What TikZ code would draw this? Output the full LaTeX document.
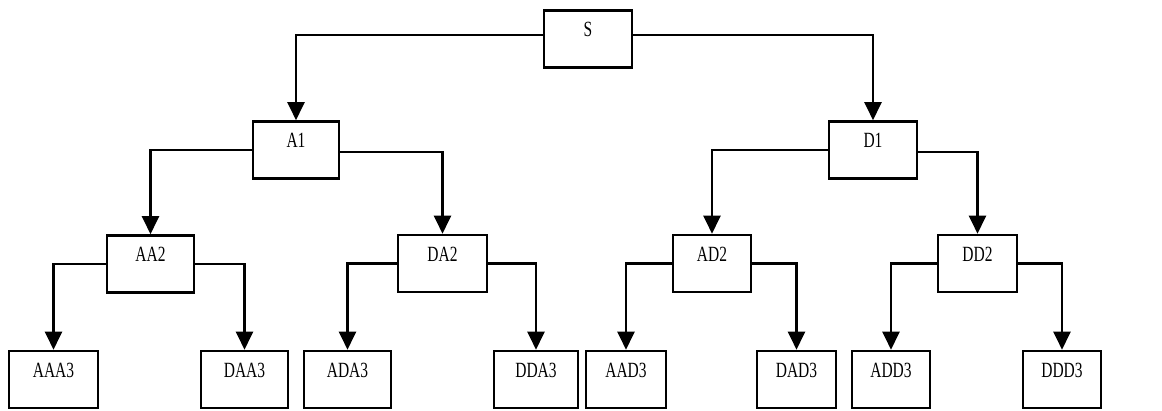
\documentclass[tikz,border=0pt]{standalone}
\usepackage{graphicx}
\usepackage{fontspec}
\setmainfont{Liberation Serif}
\usetikzlibrary{arrows.meta}
\tikzset{
  box/.style={draw, line width=2.6pt, rectangle, inner xsep=0pt, inner ysep=0pt,
    minimum height=57pt, text height=26pt, text depth=31pt,
    font=\fontsize{15.5}{18}\selectfont},
  conn/.style={line width=2.2pt, -{Triangle[width=17pt,length=18pt]}}
}
\newcommand{\lbl}[1]{\scalebox{1}[1.4]{#1}}
\begin{document}
\begin{tikzpicture}[x=1pt,y=-1pt]
\useasboundingbox (0,0) rectangle (1162,410);
% root
\node[box, minimum width=88pt] (S) at (588,39) {\lbl{S}};
% level 1
\node[box, minimum width=86pt] (A1) at (296,150) {\lbl{A1}};
\node[box, minimum width=88pt] (D1) at (873,150) {\lbl{D1}};
% level 2
\node[box, minimum width=87pt] (AA2) at (150.5,264) {\lbl{AA2}};
\node[box, minimum width=89pt] (DA2) at (442.5,263.5) {\lbl{DA2}};
\node[box, minimum width=78pt] (AD2) at (712,263.5) {\lbl{AD2}};
\node[box, minimum width=79pt] (DD2) at (977.5,263.5) {\lbl{DD2}};
% level 3
\node[box, minimum width=89pt] (AAA3) at (53.5,379.5) {\lbl{AAA3}};
\node[box, minimum width=87pt] (DAA3) at (244.5,379.5) {\lbl{DAA3}};
\node[box, minimum width=87pt] (ADA3) at (347.5,379.5) {\lbl{ADA3}};
\node[box, minimum width=84pt] (DDA3) at (536,379.5) {\lbl{DDA3}};
\node[box, minimum width=80pt] (AAD3) at (626,379.5) {\lbl{AAD3}};
\node[box, minimum width=79pt] (DAD3) at (796.5,379.5) {\lbl{DAD3}};
\node[box, minimum width=78pt] (ADD3) at (891,379.5) {\lbl{ADD3}};
\node[box, minimum width=78pt] (DDD3) at (1062,379.5) {\lbl{DDD3}};
% connectors
\draw[conn] ([yshift=4pt]S.west) -| (A1.north);
\draw[conn] ([yshift=4pt]S.east) -| (D1.north);
\draw[conn] (A1.west) -| (AA2.north);
\draw[conn] ([yshift=-2pt]A1.east) -| (DA2.north);
\draw[conn] (D1.west) -| (AD2.north);
\draw[conn] ([yshift=-2pt]D1.east) -| (DD2.north);
\draw[conn] (AA2.west) -| (AAA3.north);
\draw[conn] (AA2.east) -| (DAA3.north);
\draw[conn] (DA2.west) -| (ADA3.north);
\draw[conn] (DA2.east) -| (DDA3.north);
\draw[conn] (AD2.west) -| (AAD3.north);
\draw[conn] (AD2.east) -| (DAD3.north);
\draw[conn] (DD2.west) -| (ADD3.north);
\draw[conn] (DD2.east) -| (DDD3.north);
\end{tikzpicture}
\end{document}
